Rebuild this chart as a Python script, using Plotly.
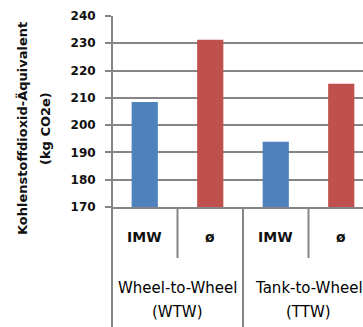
import plotly.graph_objects as go

# Emission categories and values (kg CO2e)
groups = ["Wheel-to-Wheel", "Tank-to-Wheel"]
group_codes = ["(WTW)", "(TTW)"]
sub_labels = ["IMW", "ø"]
imw_values = [208.5, 193.9]
avg_values = [231.3, 215.2]
y_ticks = [170, 180, 190, 200, 210, 220, 230, 240]

BLUE = "#4f81bd"
RED = "#c0504d"
GRID = "#858585"
TXT = "#111111"
FONT = "DejaVu Sans"

W, H = 363, 327
ML, MT, MB = 112, 16, 120
plot_h = H - MT - MB
cat_px = 65.5
plot_w = W - ML

# numeric category slots: group g, sub s -> 2*g + s
x_imw = [2 * g for g in range(len(groups))]
x_avg = [2 * g + 1 for g in range(len(groups))]

fig = go.Figure()
fig.add_trace(go.Bar(x=x_imw, y=imw_values, marker=dict(color=BLUE, line=dict(width=0)),
                     width=0.4, base=0, name="IMW"))
fig.add_trace(go.Bar(x=x_avg, y=avg_values, marker=dict(color=RED, line=dict(width=0)),
                     width=0.4, base=0, name="ø"))

fig.update_layout(
    width=W, height=H,
    margin=dict(l=ML, r=0, t=MT, b=MB, pad=0),
    paper_bgcolor="white", plot_bgcolor="white",
    showlegend=False, barmode="overlay",
    font=dict(family=FONT, color=TXT),
    xaxis=dict(range=[-0.5, -0.5 + plot_w / cat_px], showticklabels=False,
               showgrid=False, zeroline=False, showline=True,
               linecolor=GRID, linewidth=2, ticks=""),
    yaxis=dict(range=[170, 240], tickvals=y_ticks, showgrid=True, gridcolor=GRID,
               gridwidth=2, zeroline=False, showline=False, ticks="outside",
               ticklen=6, tickwidth=2, tickcolor=GRID, ticklabelstandoff=7,
               tickfont=dict(family=FONT, size=12, color=TXT, weight="bold")),
)

below = lambda px: -px / plot_h  # paper y for pixels below the plot bottom

shapes = [dict(type="line", xref="paper", yref="paper", x0=0, x1=0,
               y0=1, y1=below(MB), line=dict(color=GRID, width=2))]
for g in range(len(groups)):
    # short divider between sub categories
    shapes.append(dict(type="line", xref="x", yref="paper", x0=2 * g + 0.5, x1=2 * g + 0.5,
                       y0=0, y1=below(51), line=dict(color=GRID, width=2)))
    if g > 0:
        shapes.append(dict(type="line", xref="x", yref="paper", x0=2 * g - 0.5, x1=2 * g - 0.5,
                           y0=0, y1=below(MB), line=dict(color=GRID, width=2)))
fig.update_layout(shapes=shapes)

ann = []
for g in range(len(groups)):
    for s, lab in enumerate(sub_labels):
        ann.append(dict(x=2 * g + s, y=below(30), xref="x", yref="paper", text=lab,
                        showarrow=False, xanchor="center", yanchor="middle",
                        font=dict(family=FONT, size=14, color=TXT, weight="bold")))
    ann.append(dict(x=2 * g + 0.5, y=below(81), xref="x", yref="paper", text=groups[g],
                    showarrow=False, xanchor="center", yanchor="middle",
                    font=dict(family=FONT, size=15, color="#000000")))
    ann.append(dict(x=2 * g + 0.5, y=below(105), xref="x", yref="paper", text=group_codes[g],
                    showarrow=False, xanchor="center", yanchor="middle",
                    font=dict(family=FONT, size=15, color="#000000")))

# rotated y-axis title, two lines
for txt, px in [("Kohlenstoffdioxid-Äquivalent", 22), ("(kg CO2e)", 45)]:
    ann.append(dict(x=(px - ML) / plot_w, y=(plot_h - (129 - MT)) / plot_h,
                    xref="paper", yref="paper", text=txt, textangle=-90,
                    showarrow=False, xanchor="center", yanchor="middle",
                    font=dict(family=FONT, size=13, color=TXT, weight="bold")))
fig.update_layout(annotations=ann)

fig.write_html("out.html")
